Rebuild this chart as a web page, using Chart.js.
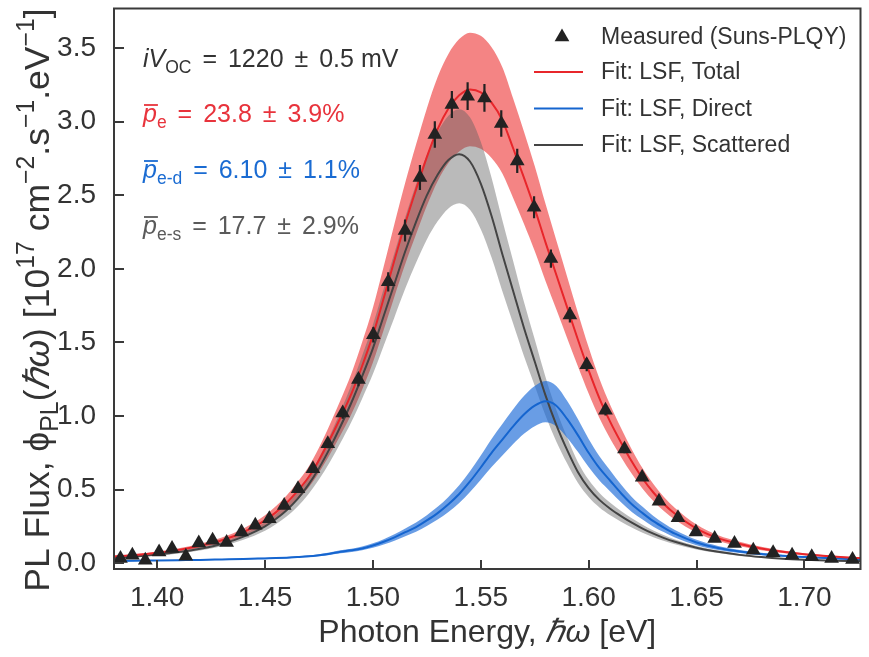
<!DOCTYPE html>
<html><head><meta charset="utf-8">
<script src="https://cdn.jsdelivr.net/npm/chart.js@4.4.1/dist/chart.umd.min.js"></script>
<style>html,body{margin:0;padding:0;background:#fff;}#wrap{width:869px;height:657px;}</style>
</head><body><div id="wrap"><canvas id="c" width="869" height="657"></canvas></div>
<script>
// ---- data ----
const measuredEnergy = [1.3830,1.3885,1.3945,1.4009,1.4069,1.4133,1.4193,1.4257,1.4322,1.4391,1.4455,1.4520,1.4589,1.4653,1.4722,1.4791,1.4860,1.4933,1.5002,1.5071,1.5149,1.5218,1.5287,1.5366,1.5439,1.5517,1.5595,1.5669,1.5747,1.5825,1.5913,1.5991,1.6078,1.6166,1.6248,1.6326,1.6414,1.6497,1.6584,1.6676,1.6763,1.6855,1.6943,1.7034,1.7126,1.7223];
const measuredFlux = [0.032,0.054,0.020,0.076,0.099,0.047,0.137,0.155,0.140,0.211,0.257,0.302,0.392,0.505,0.642,0.811,1.020,1.248,1.552,1.912,2.261,2.622,2.914,3.117,3.174,3.162,2.989,2.734,2.419,2.070,1.687,1.349,1.039,0.775,0.583,0.421,0.309,0.211,0.167,0.133,0.088,0.070,0.054,0.043,0.032,0.025];
const measuredErr = [0.003,0.003,0.003,0.004,0.005,0.004,0.006,0.007,0.006,0.009,0.011,0.013,0.016,0.020,0.025,0.030,0.038,0.045,0.052,0.065,0.075,0.085,0.090,0.092,0.094,0.094,0.090,0.082,0.075,0.062,0.052,0.045,0.036,0.028,0.022,0.016,0.012,0.009,0.007,0.006,0.004,0.004,0.003,0.003,0.003,0.003];

const fitEnergy = [1.38,1.39,1.40,1.41,1.42,1.43,1.44,1.45,1.455,1.46,1.465,1.47,1.475,1.48,1.485,1.49,1.495,1.50,1.505,1.51,1.515,1.52,1.525,1.53,1.535,1.54,1.545,1.55,1.555,1.56,1.565,1.57,1.575,1.58,1.585,1.59,1.595,1.60,1.605,1.61,1.615,1.62,1.625,1.63,1.635,1.64,1.65,1.66,1.67,1.68,1.69,1.70,1.71,1.72,1.73];

const totalFit  = [0.045,0.055,0.07,0.09,0.118,0.155,0.21,0.29,0.345,0.41,0.49,0.58,0.70,0.84,0.99,1.15,1.34,1.55,1.80,2.06,2.31,2.54,2.76,2.95,3.09,3.18,3.22,3.20,3.13,3.01,2.82,2.62,2.41,2.18,1.96,1.74,1.52,1.31,1.12,0.96,0.82,0.69,0.575,0.48,0.40,0.335,0.235,0.17,0.13,0.10,0.077,0.06,0.048,0.039,0.033];
const totalHigh = [0.050,0.062,0.078,0.101,0.132,0.174,0.235,0.325,0.386,0.459,0.549,0.650,0.784,0.941,1.109,1.288,1.501,1.736,2.016,2.307,2.587,2.845,3.091,3.304,3.461,3.562,3.606,3.584,3.506,3.371,3.158,2.934,2.699,2.442,2.195,1.949,1.702,1.467,1.254,1.075,0.918,0.773,0.644,0.538,0.448,0.375,0.263,0.190,0.146,0.112,0.086,0.067,0.054,0.044,0.037];
const totalLow  = [0.040,0.048,0.062,0.079,0.104,0.136,0.185,0.255,0.304,0.361,0.431,0.510,0.616,0.739,0.871,1.012,1.179,1.364,1.584,1.813,2.033,2.235,2.429,2.596,2.719,2.798,2.834,2.816,2.754,2.649,2.482,2.306,2.121,1.918,1.725,1.531,1.338,1.153,0.986,0.845,0.722,0.607,0.506,0.422,0.352,0.295,0.207,0.150,0.114,0.088,0.068,0.053,0.042,0.034,0.029];

const directFit  = [0.014,0.016,0.018,0.020,0.022,0.025,0.028,0.032,0.034,0.037,0.041,0.046,0.054,0.064,0.077,0.087,0.10,0.12,0.145,0.175,0.21,0.245,0.29,0.34,0.40,0.47,0.555,0.65,0.75,0.84,0.93,1.01,1.07,1.10,1.07,0.98,0.87,0.75,0.645,0.56,0.475,0.40,0.34,0.285,0.24,0.20,0.14,0.103,0.079,0.062,0.05,0.041,0.034,0.028,0.024];
const directHigh = [0.016,0.018,0.020,0.023,0.025,0.028,0.032,0.036,0.038,0.042,0.046,0.052,0.061,0.072,0.087,0.098,0.113,0.135,0.163,0.197,0.236,0.276,0.326,0.383,0.450,0.529,0.624,0.731,0.844,0.945,1.046,1.136,1.204,1.238,1.204,1.103,0.979,0.844,0.726,0.630,0.534,0.450,0.383,0.321,0.270,0.225,0.158,0.116,0.089,0.070,0.056,0.046,0.038,0.032,0.027];
const directLow  = [0.012,0.014,0.016,0.017,0.019,0.022,0.024,0.028,0.030,0.032,0.036,0.040,0.047,0.056,0.067,0.076,0.087,0.104,0.126,0.152,0.183,0.213,0.252,0.296,0.348,0.409,0.483,0.566,0.653,0.731,0.809,0.879,0.931,0.957,0.931,0.853,0.757,0.653,0.561,0.487,0.413,0.348,0.296,0.248,0.209,0.174,0.122,0.090,0.069,0.054,0.044,0.036,0.030,0.024,0.021];

const scatteredFit  = [0.035,0.045,0.058,0.075,0.098,0.13,0.18,0.25,0.30,0.36,0.435,0.53,0.645,0.78,0.93,1.09,1.27,1.46,1.68,1.90,2.12,2.32,2.50,2.64,2.74,2.78,2.73,2.58,2.36,2.10,1.85,1.60,1.37,1.14,0.94,0.77,0.62,0.51,0.43,0.37,0.32,0.275,0.235,0.20,0.17,0.145,0.105,0.077,0.056,0.041,0.030,0.023,0.018,0.015,0.013];
const scatteredHigh = [0.039,0.050,0.064,0.083,0.109,0.144,0.200,0.278,0.333,0.400,0.483,0.588,0.716,0.866,1.032,1.210,1.410,1.621,1.865,2.109,2.353,2.575,2.775,2.930,3.041,3.086,3.030,2.864,2.620,2.331,2.054,1.776,1.521,1.265,1.043,0.855,0.688,0.566,0.477,0.411,0.355,0.305,0.261,0.222,0.189,0.161,0.117,0.085,0.062,0.046,0.033,0.026,0.020,0.017,0.014];
const scatteredLow  = [0.031,0.040,0.051,0.066,0.086,0.114,0.158,0.220,0.264,0.317,0.383,0.466,0.568,0.686,0.818,0.959,1.118,1.285,1.478,1.672,1.866,2.042,2.200,2.323,2.411,2.446,2.402,2.270,2.077,1.848,1.628,1.408,1.206,1.003,0.827,0.678,0.546,0.449,0.378,0.326,0.282,0.242,0.207,0.176,0.150,0.128,0.092,0.068,0.049,0.036,0.026,0.020,0.016,0.013,0.011];

const xTicks = [1.40,1.45,1.50,1.55,1.60,1.65,1.70];
const yTicks = [0.0,0.5,1.0,1.5,2.0,2.5,3.0,3.5];
const xRange = [1.38,1.726];
const yRange = [-0.04,3.77];

const seriesLabels = ['Measured (Suns-PLQY)','Fit: LSF, Total','Fit: LSF, Direct','Fit: LSF, Scattered'];

// ---- styles ----
const FONT = '"Liberation Sans", Arial, Helvetica, sans-serif';
const INK = '#333333';
const RED = '#e8262b', BLUE = '#1565cf', GRAY = '#444444';
const RED_BAND = 'rgba(236,50,50,0.6)', GRAY_BAND = 'rgba(95,95,95,0.43)', BLUE_BAND = 'rgba(25,105,215,0.65)';

const pts = (ys) => fitEnergy.map((e,i)=>({x:e,y:ys[i]}));
const bandDs = (ys, color, fillTo, order) => ({
  data: pts(ys), showLine:true, borderColor:'rgba(0,0,0,0)', borderWidth:0, pointRadius:0,
  backgroundColor: color, fill: fillTo===null ? false : fillTo, order: order, cubicInterpolationMode:'monotone'
});
const lineDs = (label, ys, color, order) => ({
  label, data: pts(ys), showLine:true, borderColor:color, borderWidth:2, pointRadius:0, fill:false,
  order, cubicInterpolationMode:'monotone'
});

const datasets = [
  bandDs(totalLow, RED_BAND, null, 20),
  bandDs(totalHigh, RED_BAND, 0, 20),
  bandDs(scatteredLow, GRAY_BAND, null, 18),
  bandDs(scatteredHigh, GRAY_BAND, 2, 18),
  bandDs(directLow, BLUE_BAND, null, 16),
  bandDs(directHigh, BLUE_BAND, 4, 16),
  lineDs(seriesLabels[3], scatteredFit, GRAY, 5),
  lineDs(seriesLabels[2], directFit, BLUE, 4),
  lineDs(seriesLabels[1], totalFit, RED, 3),
  { label: seriesLabels[0], data: measuredEnergy.map((e,i)=>({x:e,y:measuredFlux[i]})), showLine:false,
    pointStyle:'triangle', pointRadius:8.5, backgroundColor:'#222', borderColor:'#222', borderWidth:0, order:0 }
];

function fontStr(size, italic){ return (italic?'italic ':'') + size + 'px ' + FONT; }
function segSize(s,size){ return (s.sub||s.sup)?size*0.7:size; }
function richWidth(ctx, segs, size){
  let w=0; for(const s of segs){ ctx.font=fontStr(segSize(s,size),s.it); w+=ctx.measureText(s.t).width+(s.gap||0); } return w;
}
function drawRich(ctx, segs, x, y, size, color){
  let cx=x;
  ctx.fillStyle=color; ctx.strokeStyle=color; ctx.textBaseline='alphabetic'; ctx.textAlign='left';
  for(const s of segs){
    const sz=segSize(s,size);
    const dy = s.sub? size*0.24 : (s.sup? -size*0.42 : 0);
    ctx.font=fontStr(sz,s.it);
    const w=ctx.measureText(s.t).width;
    ctx.fillText(s.t, cx, y+dy);
    if(s.ol){ ctx.lineWidth=1.8; ctx.beginPath(); ctx.moveTo(cx+1, y-size*0.68); ctx.lineTo(cx+w+1, y-size*0.68); ctx.stroke(); }
    cx+=w+(s.gap||0);
  }
}

const decor = {
  id:'decor',
  afterDatasetsDraw(chart){
    const ctx=chart.ctx, xs=chart.scales.x, ys=chart.scales.y, a=chart.chartArea;
    ctx.save();
    ctx.beginPath(); ctx.rect(a.left,a.top,a.right-a.left,a.bottom-a.top); ctx.clip();
    ctx.strokeStyle='#222'; ctx.lineWidth=2.2;
    measuredEnergy.forEach((e,i)=>{
      const px=xs.getPixelForValue(e);
      const y1=ys.getPixelForValue(measuredFlux[i]-measuredErr[i]);
      const y2=ys.getPixelForValue(measuredFlux[i]+measuredErr[i]);
      ctx.beginPath(); ctx.moveTo(px,y1); ctx.lineTo(px,y2); ctx.stroke();
    });
    ctx.restore();
    ctx.save();
    ctx.strokeStyle='#3a3a3a'; ctx.lineWidth=2;
    ctx.strokeRect(a.left,a.top,a.right-a.left,a.bottom-a.top);
    xTicks.forEach(v=>{ const px=Math.round(xs.getPixelForValue(v)); ctx.beginPath(); ctx.moveTo(px,a.bottom); ctx.lineTo(px,a.bottom-9); ctx.stroke(); });
    yTicks.forEach(v=>{ const py=Math.round(ys.getPixelForValue(v)); ctx.beginPath(); ctx.moveTo(a.left,py); ctx.lineTo(a.left+10,py); ctx.stroke(); });

    // legend
    const lx0=534, lx1=583, tx=601, rows=[37,72,108.5,145];
    const r=8.5, cx=562, cy=rows[0];
    ctx.fillStyle='#222'; ctx.beginPath();
    ctx.moveTo(cx, cy-r); ctx.lineTo(cx+r*0.866, cy+r*0.5); ctx.lineTo(cx-r*0.866, cy+r*0.5); ctx.closePath(); ctx.fill();
    const lineCols=[RED,BLUE,GRAY];
    [1,2,3].forEach((k,j)=>{ ctx.strokeStyle=lineCols[j]; ctx.lineWidth=2; ctx.beginPath(); ctx.moveTo(lx0,rows[k]); ctx.lineTo(lx1,rows[k]); ctx.stroke(); });
    ctx.font=fontStr(23,false); ctx.textBaseline='middle'; ctx.textAlign='left'; ctx.fillStyle=INK;
    seriesLabels.forEach((t,k)=>{ ctx.fillText(t, tx, rows[k]+1); });

    // annotations
    const S=25, G=4;
    drawRich(ctx,[{t:'i',it:true},{t:'V',it:true},{t:'OC',sub:true,gap:G},{t:' = ',gap:G},{t:'1220',gap:G},{t:' \u00b1 ',gap:G},{t:'0.5 mV'}],143,67,S,INK);
    drawRich(ctx,[{t:'p',it:true,ol:true},{t:'e',sub:true,gap:G},{t:' = ',gap:G},{t:'23.8',gap:G},{t:' \u00b1 ',gap:G},{t:'3.9%'}],143,122,S,'#e8333c');
    drawRich(ctx,[{t:'p',it:true,ol:true},{t:'e-d',sub:true,gap:G},{t:' = ',gap:G},{t:'6.10',gap:G},{t:' \u00b1 ',gap:G},{t:'1.1%'}],143,178,S,'#1a6bd2');
    drawRich(ctx,[{t:'p',it:true,ol:true},{t:'e-s',sub:true,gap:G},{t:' = ',gap:G},{t:'17.7',gap:G},{t:' \u00b1 ',gap:G},{t:'2.9%'}],143,234,S,'#5a5a5a');

    // x title
    const xt=[{t:'Photon Energy, '},{t:'\u210f\u03c9',it:true},{t:' [eV]'}];
    const XS=32; const xw=richWidth(ctx,xt,XS);
    drawRich(ctx,xt,(a.left+a.right)/2 - xw/2, 642, XS, INK);
    // y title
    const yt=[{t:'PL Flux, \u03d5'},{t:'PL',sub:true},{t:'('},{t:'\u210f\u03c9',it:true},{t:') [10'},{t:'17',sup:true},{t:' cm'},{t:'\u22122',sup:true},{t:'.s'},{t:'\u22121',sup:true},{t:'.eV'},{t:'\u22121',sup:true},{t:']'}];
    const YS=35.5; const yw=richWidth(ctx,yt,YS);
    ctx.translate(49, 300); ctx.rotate(-Math.PI/2);
    drawRich(ctx,yt,-yw/2,0,YS,INK);
    ctx.restore();
  }
};

new Chart(document.getElementById('c'), {
  type:'scatter',
  data:{ datasets },
  options:{
    responsive:false, animation:false, devicePixelRatio:1,
    layout:{ padding:{ top:5, right:3, left:0, bottom:0 } },
    plugins:{ legend:{display:false}, tooltip:{enabled:false}, filler:{propagate:false} },
    scales:{
      x:{ type:'linear', min:xRange[0], max:xRange[1],
          afterBuildTicks:(s)=>{ s.ticks = xTicks.map(v=>({value:v})); },
          afterFit:(s)=>{ s.height = 88; s.paddingLeft = 0; s.paddingRight = 0; },
          grid:{display:false}, border:{display:false},
          ticks:{ autoSkip:false, maxRotation:0, padding:4, color:INK, font:{family:FONT,size:28}, callback:(v)=>Number(v).toFixed(2) } },
      y:{ type:'linear', min:yRange[0], max:yRange[1],
          afterBuildTicks:(s)=>{ s.ticks = yTicks.map(v=>({value:v})); },
          afterFit:(s)=>{ s.width = 114; s.paddingTop = 0; s.paddingBottom = 0; },
          grid:{display:false}, border:{display:false},
          ticks:{ autoSkip:false, padding:10, color:INK, font:{family:FONT,size:28}, callback:(v)=>Number(v).toFixed(1) } }
    }
  },
  plugins:[decor]
});
</script></body></html>
